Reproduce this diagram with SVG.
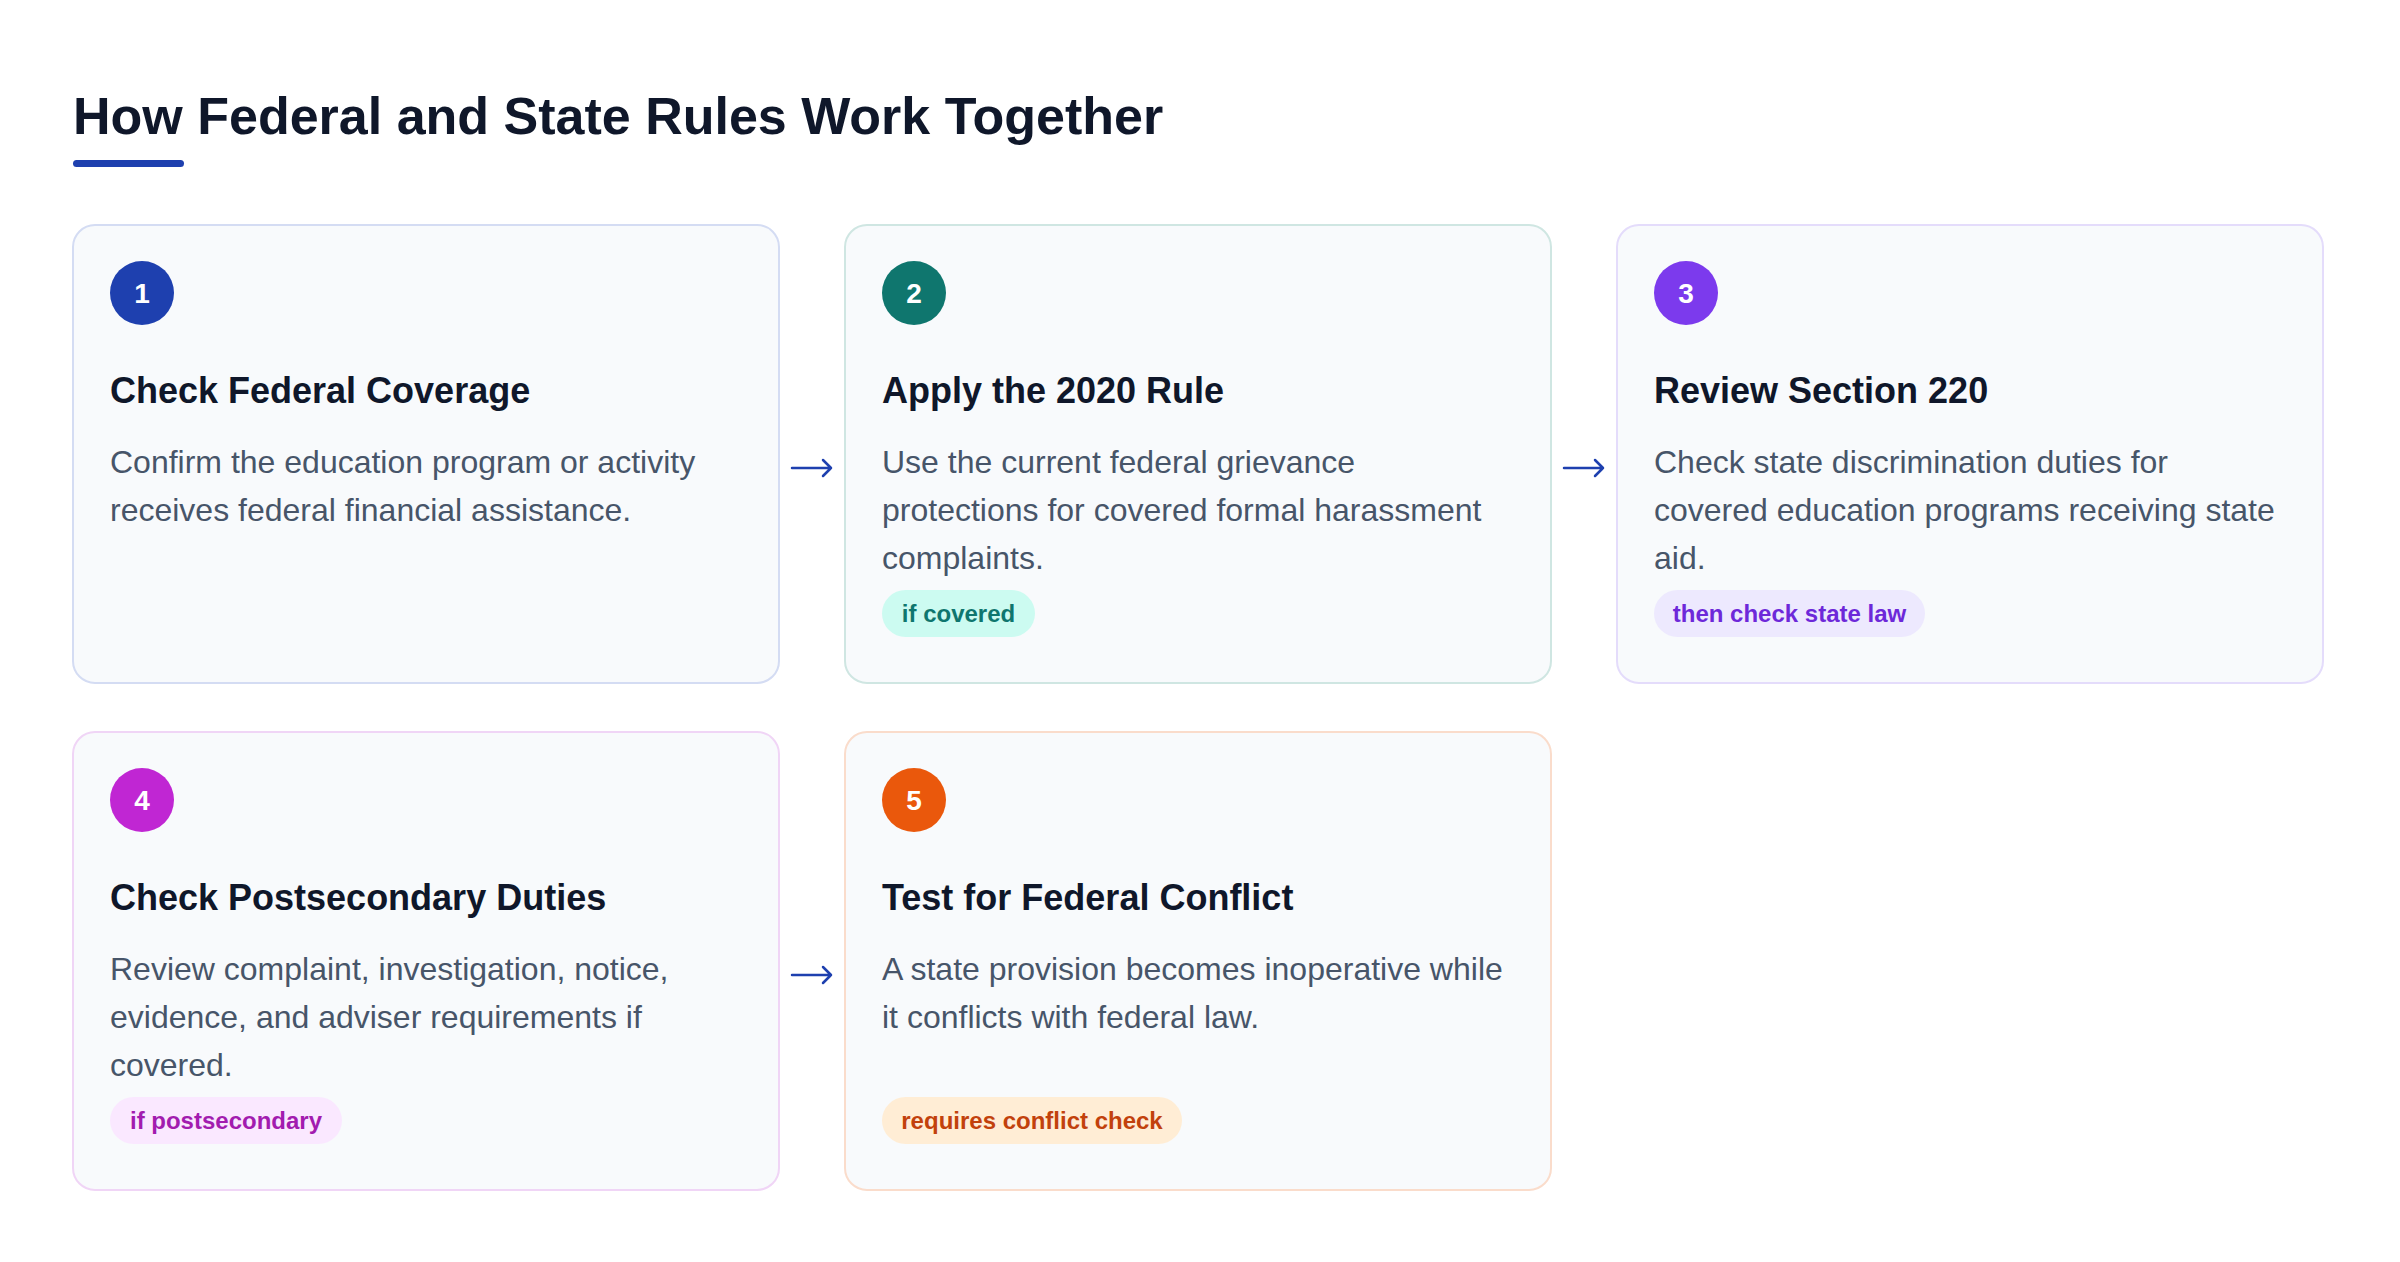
<svg xmlns="http://www.w3.org/2000/svg" width="2400" height="1262" viewBox="0 0 2400 1262">
<style>
.card{fill:#f8fafc;stroke-width:2}
.num{font-family:"Liberation Sans",Arial,sans-serif;font-weight:700;font-size:28px;fill:#ffffff;text-anchor:middle}
.ttl{font-family:"Liberation Sans",Arial,sans-serif;font-weight:700;font-size:36px;fill:#0f172a}
.body{font-family:"Liberation Sans",Arial,sans-serif;font-weight:400;font-size:32px;fill:#475569}
.pill{font-family:"Liberation Sans",Arial,sans-serif;font-weight:700;font-size:24px;text-anchor:middle}
.arrow{fill:none;stroke:#1e40af;stroke-width:2.5;stroke-linecap:round;stroke-linejoin:round}
</style>
<rect width="2400" height="1262" fill="#ffffff"/>
<g id="header">
<text x="73" y="134" font-family="'Liberation Sans',Arial,sans-serif" font-weight="700" font-size="52" fill="#0f172a">How Federal and State Rules Work Together</text>
<rect x="73" y="160" width="111" height="7" rx="3.5" fill="#1e40af"/>
</g>
<g id="step1">
<rect class="card" x="73" y="225" width="706" height="458" rx="22" stroke="#d4dcf3"/>
<circle cx="142" cy="293" r="32" fill="#1e40af"/>
<text class="num" x="142" y="303">1</text>
<text class="ttl" x="110" y="403">Check Federal Coverage</text>
<text class="body" x="110" y="473">Confirm the education program or activity</text>
<text class="body" x="110" y="521">receives federal financial assistance.</text>
</g>
<g id="step2">
<rect class="card" x="845" y="225" width="706" height="458" rx="22" stroke="#cfe6e2"/>
<circle cx="914" cy="293" r="32" fill="#0f766e"/>
<text class="num" x="914" y="303">2</text>
<text class="ttl" x="882" y="403">Apply the 2020 Rule</text>
<text class="body" x="882" y="473">Use the current federal grievance</text>
<text class="body" x="882" y="521">protections for covered formal harassment</text>
<text class="body" x="882" y="569">complaints.</text>
<rect x="882" y="590" width="153" height="47" rx="23.5" fill="#ccfbf1"/>
<text class="pill" x="958.5" y="622" fill="#0f766e">if covered</text>
</g>
<g id="step3">
<rect class="card" x="1617" y="225" width="706" height="458" rx="22" stroke="#e4dcfb"/>
<circle cx="1686" cy="293" r="32" fill="#7c3aed"/>
<text class="num" x="1686" y="303">3</text>
<text class="ttl" x="1654" y="403">Review Section 220</text>
<text class="body" x="1654" y="473">Check state discrimination duties for</text>
<text class="body" x="1654" y="521">covered education programs receiving state</text>
<text class="body" x="1654" y="569">aid.</text>
<rect x="1654" y="590" width="271" height="47" rx="23.5" fill="#ede9fe"/>
<text class="pill" x="1789.5" y="622" fill="#6d28d9">then check state law</text>
</g>
<g id="step4">
<rect class="card" x="73" y="732" width="706" height="458" rx="22" stroke="#f0d5f6"/>
<circle cx="142" cy="800" r="32" fill="#c026d3"/>
<text class="num" x="142" y="810">4</text>
<text class="ttl" x="110" y="910">Check Postsecondary Duties</text>
<text class="body" x="110" y="980">Review complaint, investigation, notice,</text>
<text class="body" x="110" y="1028">evidence, and adviser requirements if</text>
<text class="body" x="110" y="1076">covered.</text>
<rect x="110" y="1097" width="232" height="47" rx="23.5" fill="#fae8ff"/>
<text class="pill" x="226" y="1129" fill="#a21caf">if postsecondary</text>
</g>
<g id="step5">
<rect class="card" x="845" y="732" width="706" height="458" rx="22" stroke="#fadccb"/>
<circle cx="914" cy="800" r="32" fill="#ea580c"/>
<text class="num" x="914" y="810">5</text>
<text class="ttl" x="882" y="910">Test for Federal Conflict</text>
<text class="body" x="882" y="980">A state provision becomes inoperative while</text>
<text class="body" x="882" y="1028">it conflicts with federal law.</text>
<rect x="882" y="1097" width="300" height="47" rx="23.5" fill="#ffedd5"/>
<text class="pill" x="1032" y="1129" fill="#c2410c">requires conflict check</text>
</g>
<g id="connectors">
<path class="arrow" d="M792 468 H831 M823 460 L831 468 L823 476"/>
<path class="arrow" d="M1564 468 H1603 M1595 460 L1603 468 L1595 476"/>
<path class="arrow" d="M792 975 H831 M823 967 L831 975 L823 983"/>
</g>
</svg>
